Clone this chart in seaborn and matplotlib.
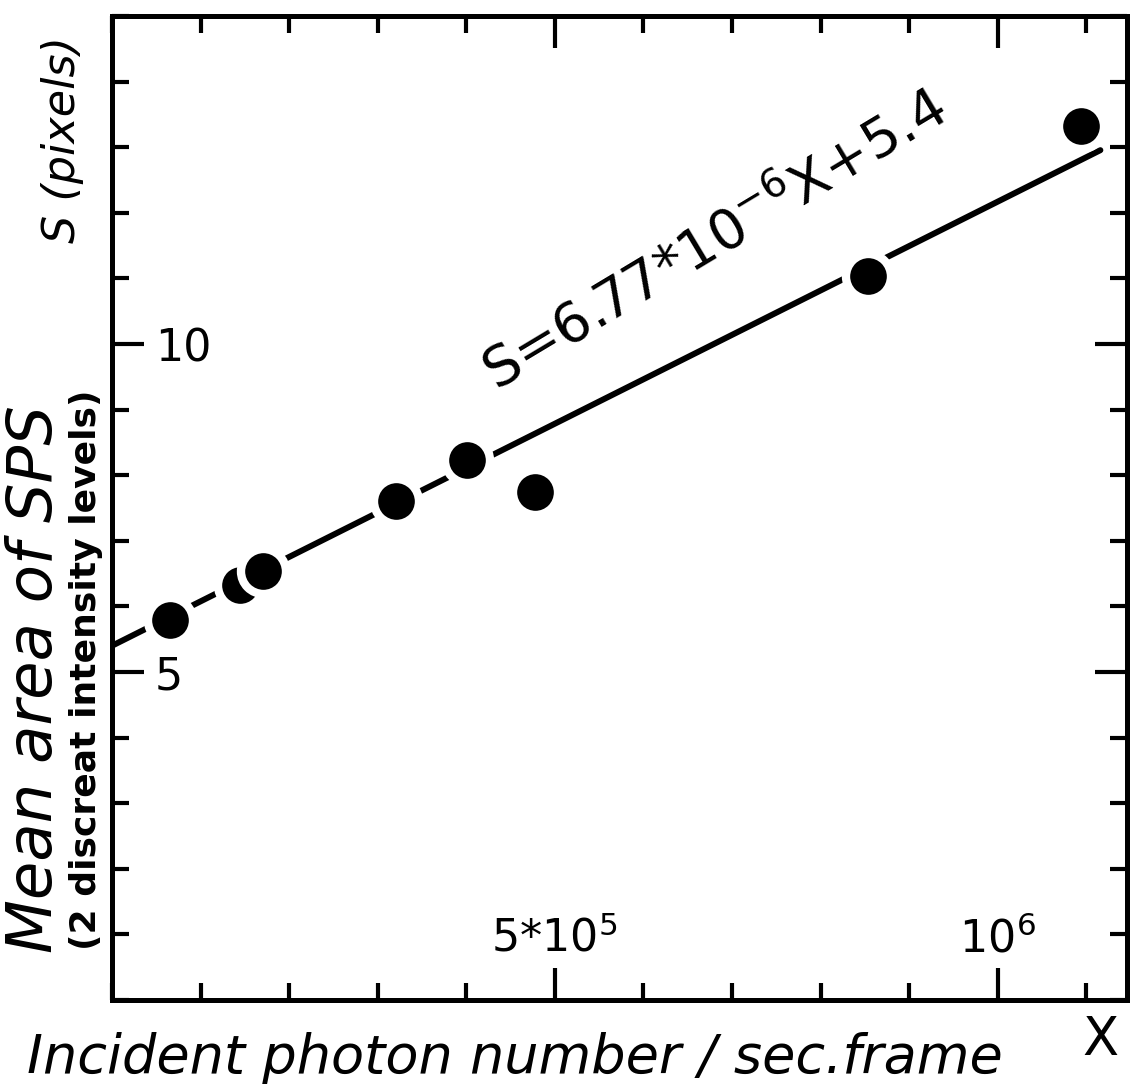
import matplotlib
matplotlib.use("Agg")
import matplotlib.pyplot as plt
from matplotlib.ticker import MultipleLocator
import numpy as np
import pandas as pd
import seaborn as sns

# Measured points (incident photon number X, mean SPS area S)
photon_number = [65500, 145000, 170000, 321000, 401000, 478000, 854000, 1094000]
mean_area = [5.80, 6.33, 6.54, 7.60, 8.23, 7.75, 11.04, 13.33]

# Fitted line S = slope * X + intercept
slope = 6.77e-6
intercept = 5.4
fit_range = [0, 1.116e6]

x_major = [5e5, 1e6]
x_major_labels = ["5*10$^{5}$", "10$^{6}$"]
y_major = [5, 10]
y_major_labels = ["5", "10"]

points = pd.DataFrame({"X": photon_number, "S": mean_area})
fit_x = np.array(fit_range)
fit = pd.DataFrame({"X": fit_x, "S": slope * fit_x + intercept})

sns.set_theme(style="ticks")
plt.rcParams["font.family"] = ["DejaVu Sans"]
plt.rcParams["text.color"] = "black"
plt.rcParams["xtick.labelcolor"] = "black"
plt.rcParams["ytick.labelcolor"] = "black"
plt.rcParams["mathtext.default"] = "regular"

fig = plt.figure(figsize=(11.3, 10.91), dpi=100)
ax = fig.add_axes([0.0991, 0.0834, 0.8982, 0.9019])

sns.lineplot(data=fit, x="X", y="S", color="black", linewidth=4.3, ax=ax, zorder=2)
sns.scatterplot(data=points, x="X", y="S", color="black", s=1050,
                edgecolor="white", linewidth=6, ax=ax, zorder=3)

ax.set_xlim(0, 1.146e6)
ax.set_ylim(0, 15)

ax.set_xticks(x_major)
ax.set_xticklabels(x_major_labels)
ax.xaxis.set_minor_locator(MultipleLocator(1e5))
ax.set_yticks(y_major)
ax.set_yticklabels(y_major_labels)
ax.yaxis.set_minor_locator(MultipleLocator(1))

ax.tick_params(which="both", direction="in", top=True, right=True,
               color="black", width=3)
ax.tick_params(which="major", length=23)
ax.tick_params(which="minor", length=12)
ax.tick_params(axis="x", which="major", labelsize=32, pad=-60,
               labelcolor="black")
ax.tick_params(axis="y", which="major", labelsize=32, pad=-31,
               labelcolor="black")
for lbl in ax.get_yticklabels():
    lbl.set_horizontalalignment("left")

for side in ax.spines.values():
    side.set_linewidth(3.6)
    side.set_color("black")

ax.set_xlabel("")
ax.set_ylabel("")

# Fit equation along the line
ax.text(681000, 11.57, "S=6.77*10$^{-6}$X+5.4", fontsize=40,
        rotation=31, rotation_mode="anchor", ha="center", va="center",
        color="black")

# Axis titles
fig.text(0.055, 0.872, "S (pixels)", rotation=90, fontsize=32,
         style="italic", ha="center", va="center", color="black")
fig.text(0.031, 0.378, "Mean area of SPS", rotation=90, fontsize=45,
         style="italic", ha="center", va="center", color="black")
fig.text(0.076, 0.386, "(2 discreat intensity levels)", rotation=90,
         fontsize=26, fontweight="bold", ha="center", va="center",
         color="black")
fig.text(0.456, 0.030, "Incident photon number / sec.frame", fontsize=39,
         style="italic", ha="center", va="center", color="black")
fig.text(0.974, 0.047, "X", fontsize=38, ha="center", va="center",
         color="black")

fig.savefig("out.png", dpi=100, facecolor="white")
